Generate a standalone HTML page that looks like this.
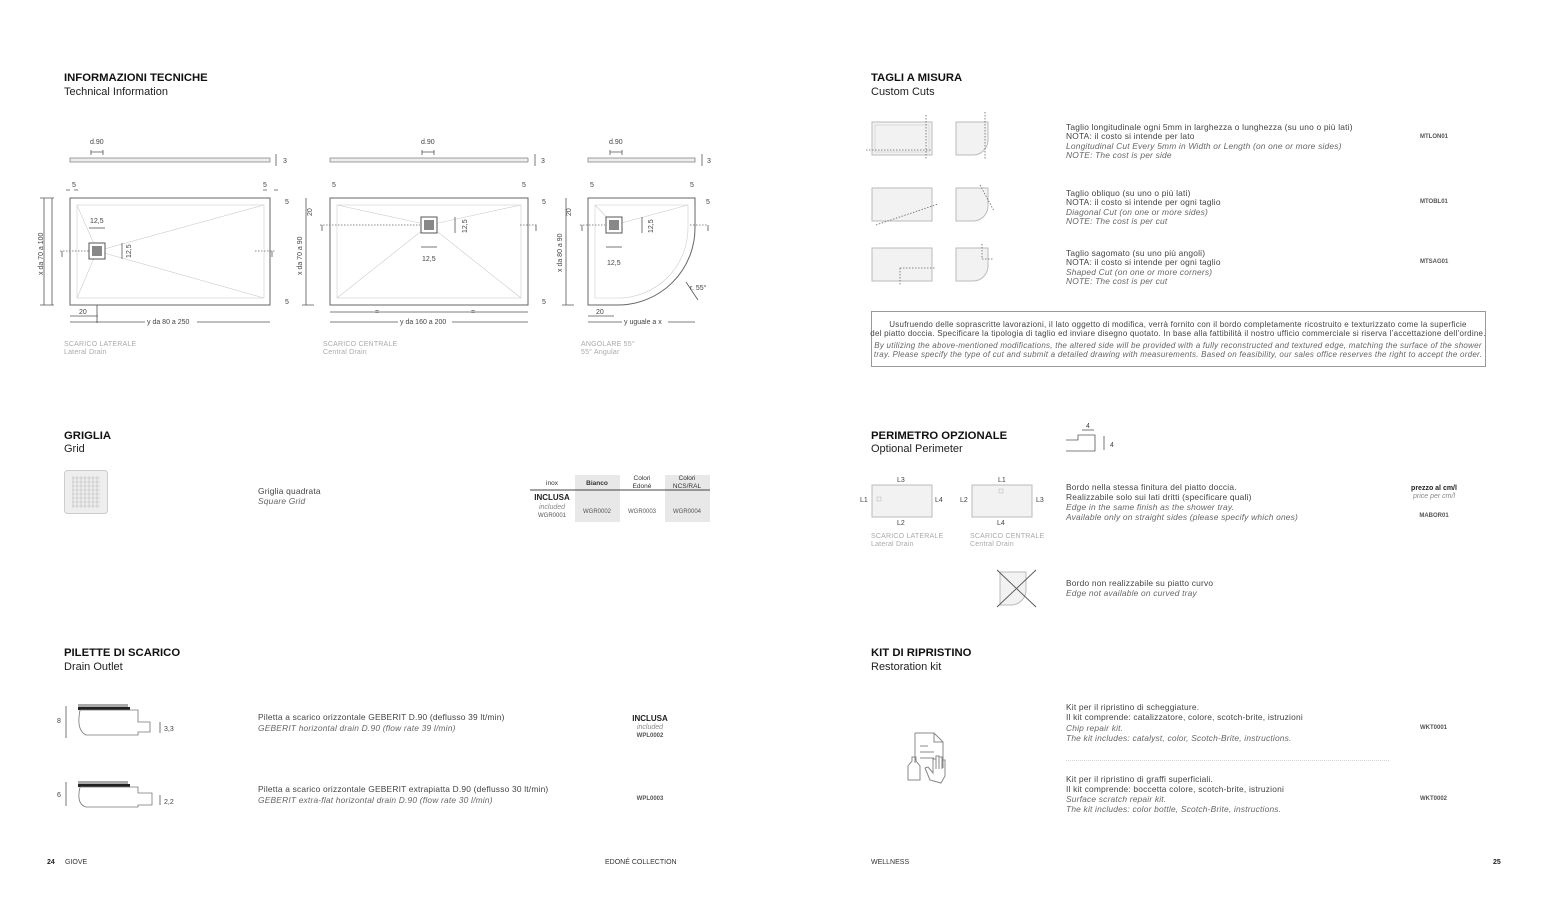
<!DOCTYPE html>
<html><head><meta charset="utf-8"><style>
html,body{margin:0;padding:0;background:#fff}
svg{display:block}
text{font-family:"Liberation Sans",sans-serif;fill:#333}
.h{font-size:11.3px;font-weight:bold;fill:#111}
.s{font-size:11px;fill:#222}
.t{font-size:8.4px;fill:#444;letter-spacing:0.2px}
.i{font-size:8.4px;font-style:italic;fill:#666;letter-spacing:0.2px}
.c{font-size:6px;font-weight:bold;fill:#555}
.cap{font-size:7px;fill:#aaa;letter-spacing:0.2px}
.d{font-size:7px;fill:#444}
.ln{stroke:#555;stroke-width:0.8;fill:none}
.lg{stroke:#ccc;stroke-width:0.6;fill:none}
.dash{stroke:#666;stroke-width:0.8;stroke-dasharray:1.5 1.5;fill:none}
.tray{fill:#f2f2f2;stroke:#bbb;stroke-width:1}
.n{font-size:8px;letter-spacing:0.25px}
</style></head><body>
<svg width="1550" height="904" viewBox="0 0 1550 904" xmlns="http://www.w3.org/2000/svg">
<text x="64" y="81" class="h">INFORMAZIONI TECNICHE</text><text x="64" y="95" class="s">Technical Information</text>
<text x="871" y="81" class="h">TAGLI A MISURA</text><text x="871" y="95" class="s">Custom Cuts</text>
<text x="64" y="439" class="h">GRIGLIA</text><text x="64" y="452" class="s">Grid</text>
<text x="871" y="439" class="h">PERIMETRO OPZIONALE</text><text x="871" y="452" class="s">Optional Perimeter</text>
<text x="64" y="656" class="h">PILETTE DI SCARICO</text><text x="64" y="670" class="s">Drain Outlet</text>
<text x="871" y="656" class="h">KIT DI RIPRISTINO</text><text x="871" y="670" class="s">Restoration kit</text>

<g>
<text x="90" y="144" class="d">d.90</text><path class="ln" d="M91 150v5M103 150v5M91 152h12"/>
<rect x="70" y="158" width="200" height="4" fill="#eee" stroke="#777" stroke-width="0.7"/>
<path class="ln" d="M276 154v12"/><text x="283" y="163" class="d">3</text>
<text x="72" y="187" class="d">5</text><text x="263" y="187" class="d">5</text>
<path class="ln" d="M66 190h4M74 190h4M263 190h4M274 190h4"/>
<rect x="70" y="198" width="200" height="107" fill="#fff" stroke="#666" stroke-width="1"/>
<rect x="77" y="205" width="187" height="93" class="lg"/>
<path class="lg" d="M77 205L97 251L264 205M77 298L97 251L264 298"/>
<rect x="89" y="243" width="16" height="16" fill="#fff" stroke="#555"/><rect x="92" y="246" width="10" height="10" fill="#888"/>
<text x="90" y="223" class="d">12,5</text><path class="ln" d="M89 228h16"/>
<text x="131" y="258" class="d" transform="rotate(-90 131 258)">12,5</text><path class="ln" d="M122 243v16"/>
<path class="dash" d="M60 251h30M255 251h20"/>
<path class="ln" d="M62 251v6M272 251v6"/>
<path class="ln" d="M44 198v107M52 198v107M40 198h14M40 305h14"/>
<text x="43" y="275" class="d" transform="rotate(-90 43 275)">x da 70 a 100</text>
<text x="285" y="204" class="d">5</text><text x="285" y="304" class="d">5</text>
<path class="ln" d="M97 305v18M70 316h28"/><text x="79" y="314" class="d">20</text>
<path class="ln" d="M70 322h200"/><rect x="145" y="318" width="52" height="8" fill="#fff"/><text x="147" y="324" class="d">y da 80 a 250</text>
<text x="64" y="346" class="cap">SCARICO LATERALE</text><text x="64" y="354" class="cap">Lateral Drain</text>
</g>
<g>
<text x="421" y="144" class="d">d.90</text><path class="ln" d="M422 150v5M434 150v5M422 152h12"/>
<rect x="330" y="158" width="198" height="4" fill="#eee" stroke="#777" stroke-width="0.7"/>
<path class="ln" d="M535 154v12"/><text x="541" y="163" class="d">3</text>
<text x="332" y="187" class="d">5</text><text x="522" y="187" class="d">5</text>
<rect x="330" y="198" width="198" height="107" fill="#fff" stroke="#666" stroke-width="1"/>
<rect x="337" y="205" width="184" height="93" class="lg"/>
<path class="lg" d="M337 205L429 225L521 205M337 298L429 225L521 298"/>
<rect x="421" y="217" width="16" height="16" fill="#fff" stroke="#555"/><rect x="424" y="220" width="10" height="10" fill="#888"/>
<text x="467" y="233" class="d" transform="rotate(-90 467 233)">12,5</text><path class="ln" d="M455 217v16"/>
<path class="ln" d="M421 247h16"/><text x="422" y="261" class="d">12,5</text>
<path class="dash" d="M320 225h100M520 225h18"/><path class="ln" d="M322 225v6M536 225v6"/>
<path class="ln" d="M306 198v107M302 305h12"/>
<text x="312" y="216" class="d" transform="rotate(-90 312 216)">20</text>
<text x="302" y="275" class="d" transform="rotate(-90 302 275)">x da 70 a 90</text>
<text x="542" y="204" class="d">5</text><text x="542" y="304" class="d">5</text>
<path class="ln" d="M330 312h198"/><text x="375" y="314" class="d">=</text><text x="471" y="314" class="d">=</text>
<path class="ln" d="M330 322h198"/><rect x="398" y="318" width="54" height="8" fill="#fff"/><text x="400" y="324" class="d">y da 160 a 200</text>
<text x="323" y="346" class="cap">SCARICO CENTRALE</text><text x="323" y="354" class="cap">Central Drain</text>
</g>
<g>
<text x="609" y="144" class="d">d.90</text><path class="ln" d="M610 150v5M622 150v5M610 152h12"/>
<rect x="588" y="158" width="107" height="4" fill="#eee" stroke="#777" stroke-width="0.7"/>
<path class="ln" d="M702 154v12"/><text x="707" y="163" class="d">3</text>
<text x="590" y="187" class="d">5</text><text x="690" y="187" class="d">5</text>
<path d="M588 198H695V228A77 77 0 0 1 618 305H588Z" fill="#fff" stroke="#666"/>
<path d="M595 205H688V228A70 70 0 0 1 618 298H595Z" class="lg"/>
<path class="lg" d="M595 205L614 225L688 205"/>
<rect x="606" y="217" width="16" height="16" fill="#fff" stroke="#555"/><rect x="609" y="220" width="10" height="10" fill="#888"/>
<text x="653" y="233" class="d" transform="rotate(-90 653 233)">12,5</text><path class="ln" d="M642 217v16"/>
<path class="ln" d="M606 247h16"/><text x="607" y="265" class="d">12,5</text>
<path class="dash" d="M580 225h25M690 225h18"/><path class="ln" d="M582 225v6M708 225v6"/>
<path class="ln" d="M566 198v107M562 305h12"/>
<text x="571" y="216" class="d" transform="rotate(-90 571 216)">20</text>
<text x="562" y="272" class="d" transform="rotate(-90 562 272)">x da 80 a 90</text>
<text x="706" y="204" class="d">5</text>
<path class="ln" d="M686 282L698 300"/><text x="690" y="290" class="d">r. 55°</text>
<path class="ln" d="M588 316h26"/><text x="596" y="314" class="d">20</text>
<path class="ln" d="M588 322h107"/><rect x="622" y="318" width="46" height="8" fill="#fff"/><text x="624" y="324" class="d">y uguale a x</text>
<text x="581" y="346" class="cap">ANGOLARE 55°</text><text x="581" y="354" class="cap">55° Angular</text>
</g>

<g>
<rect x="872" y="122" width="60" height="33" class="tray"/><rect x="875" y="125" width="54" height="27" fill="none" stroke="#ccc" stroke-width="0.6"/>
<path class="dash" d="M866 150h66M926 115v44"/>
<path d="M956 122H988V140A15 15 0 0 1 973 155H956Z" class="tray"/><path class="dash" d="M985 112v48"/>
<rect x="872" y="188" width="60" height="33" class="tray"/><path class="dash" d="M876 225L938 204"/>
<path d="M956 188H988V206A15 15 0 0 1 973 221H956Z" class="tray"/><path class="dash" d="M980 185L994 211"/>
<rect x="872" y="248" width="60" height="33" class="tray"/><path class="dash" d="M900 268h35M900 268v17"/>
<path d="M956 248H988V266A15 15 0 0 1 973 281H956Z" class="tray"/><path class="dash" d="M982 244v15h12"/>
</g>
<text x="1066" y="130" class="t">Taglio longitudinale ogni 5mm in larghezza o lunghezza (su uno o più lati)</text>
<text x="1066" y="139" class="t">NOTA: il costo si intende per lato</text>
<text x="1066" y="149" class="i">Longitudinal Cut Every 5mm in Width or Length (on one or more sides)</text>
<text x="1066" y="158" class="i">NOTE: The cost is per side</text>
<text x="1420" y="138" class="c">MTLON01</text>
<text x="1066" y="196" class="t">Taglio obliquo (su uno o più lati)</text>
<text x="1066" y="205" class="t">NOTA: il costo si intende per ogni taglio</text>
<text x="1066" y="215" class="i">Diagonal Cut (on one or more sides)</text>
<text x="1066" y="224" class="i">NOTE: The cost is per cut</text>
<text x="1420" y="203" class="c">MTOBL01</text>
<text x="1066" y="256" class="t">Taglio sagomato (su uno più angoli)</text>
<text x="1066" y="265" class="t">NOTA: il costo si intende per ogni taglio</text>
<text x="1066" y="275" class="i">Shaped Cut (on one or more corners)</text>
<text x="1066" y="284" class="i">NOTE: The cost is per cut</text>
<text x="1420" y="263" class="c">MTSAG01</text>
<rect x="871.5" y="311.5" width="614" height="55" fill="none" stroke="#999"/>
<g text-anchor="middle">
<text x="1178" y="327" class="t n">Usufruendo delle soprascritte lavorazioni, il lato oggetto di modifica, verrà fornito con il bordo completamente ricostruito e texturizzato come la superficie</text>
<text x="1178" y="336" class="t n">del piatto doccia. Specificare la tipologia di taglio ed inviare disegno quotato. In base alla fattibilità il nostro ufficio commerciale si riserva l’accettazione dell’ordine.</text>
<text x="1178" y="348" class="i n">By utilizing the above-mentioned modifications, the altered side will be provided with a fully reconstructed and textured edge, matching the surface of the shower</text>
<text x="1178" y="357" class="i n">tray. Please specify the type of cut and submit a detailed drawing with measurements. Based on feasibility, our sales office reserves the right to accept the order.</text>
</g>

<rect x="64.5" y="470.5" width="43" height="43" rx="3" fill="#eee" stroke="#ccc"/>
<g fill="none" stroke="#bbb" stroke-width="0.6">
<path d="M72 478h28M72 482h28M72 486h28M72 490h28M72 494h28M72 498h28M72 502h28M72 506h28"/>
<path d="M73 476v32M77 476v32M81 476v32M85 476v32M89 476v32M93 476v32M97 476v32"/>
</g>
<text x="258" y="494" class="t">Griglia quadrata</text><text x="258" y="504" class="i">Square Grid</text>
<rect x="575" y="475" width="45" height="47" fill="#e8e8e8"/><rect x="665" y="475" width="45" height="47" fill="#e8e8e8"/>
<path d="M530 490h180" stroke="#444" stroke-width="1"/>
<g text-anchor="middle" style="font-size:6px">
<text x="552" y="485" style="font-size:6.5px">inox</text>
<text x="597" y="485" style="font-size:6.5px;font-weight:bold">Bianco</text>
<text x="642" y="480" style="font-size:6.5px">Colori</text><text x="642" y="488" style="font-size:6.5px">Edoné</text>
<text x="687" y="480" style="font-size:6.5px">Colori</text><text x="687" y="488" style="font-size:6.5px">NCS/RAL</text>
<text x="552" y="500" style="font-size:8px;font-weight:bold;fill:#222">INCLUSA</text>
<text x="552" y="509" style="font-size:7px;font-style:italic;fill:#888">included</text>
<text x="552" y="517" style="font-size:6px;fill:#555">WGR0001</text>
<text x="597" y="513" style="font-size:6px;fill:#555">WGR0002</text>
<text x="642" y="513" style="font-size:6px;fill:#555">WGR0003</text>
<text x="687" y="513" style="font-size:6px;fill:#555">WGR0004</text>
</g>

<path class="ln" d="M1066 440h12v-5h17v16h-29" stroke="#888"/><path class="ln" d="M1104 436v14"/>
<path class="ln" d="M1082 430h12"/><text x="1086" y="428" class="d">4</text><text x="1110" y="447" class="d">4</text>
<rect x="872" y="485" width="60" height="32" class="tray"/><rect x="877" y="497" width="4" height="4" fill="none" stroke="#bbb" stroke-width="0.6"/>
<text x="897" y="482" class="d">L3</text><text x="860" y="502" class="d">L1</text><text x="935" y="502" class="d">L4</text><text x="897" y="525" class="d">L2</text>
<rect x="972" y="485" width="60" height="32" class="tray"/><rect x="999" y="489" width="4" height="4" fill="none" stroke="#bbb" stroke-width="0.6"/>
<text x="998" y="482" class="d">L1</text><text x="960" y="502" class="d">L2</text><text x="1036" y="502" class="d">L3</text><text x="997" y="525" class="d">L4</text>
<text x="871" y="538" class="cap">SCARICO LATERALE</text><text x="871" y="546" class="cap">Lateral Drain</text>
<text x="970" y="538" class="cap">SCARICO CENTRALE</text><text x="970" y="546" class="cap">Central Drain</text>
<text x="1066" y="490" class="t">Bordo nella stessa finitura del piatto doccia.</text>
<text x="1066" y="500" class="t">Realizzabile solo sui lati dritti (specificare quali)</text>
<text x="1066" y="510" class="i">Edge in the same finish as the shower tray.</text>
<text x="1066" y="520" class="i">Available only on straight sides (please specify which ones)</text>
<g text-anchor="middle"><text x="1434" y="490" style="font-size:7px;font-weight:bold;fill:#222">prezzo al cm/l</text>
<text x="1434" y="498" style="font-size:7px;font-style:italic;fill:#888">price per cm/l</text>
<text x="1434" y="517" class="c">MABOR01</text></g>
<path d="M1000 572H1026V590A15 15 0 0 1 1011 605H1000Z" class="tray"/>
<path d="M997 570L1036 607M1036 570L997 607" stroke="#555" stroke-width="0.9"/>
<text x="1066" y="586" class="t">Bordo non realizzabile su piatto curvo</text>
<text x="1066" y="596" class="i">Edge not available on curved tray</text>

<g>
<text x="57" y="723" class="d">8</text><path class="ln" d="M66 706v32"/>
<rect x="78" y="704" width="50" height="3" fill="#aaa"/><rect x="78" y="707" width="52" height="3" fill="#222"/>
<path d="M80 710H138V722H150V732H138V735H86Q76 730 80 710Z" fill="#fff" stroke="#777" stroke-width="0.8"/>
<path class="ln" d="M160 722v11"/><text x="164" y="731" class="d">3,3</text>
<text x="57" y="797" class="d">6</text><path class="ln" d="M66 782v24"/>
<rect x="78" y="781" width="50" height="3" fill="#aaa"/><rect x="78" y="784" width="52" height="3" fill="#222"/>
<path d="M80 787H138V793H152V805H138V807H86Q76 804 80 787Z" fill="#fff" stroke="#777" stroke-width="0.8"/>
<path class="ln" d="M160 795v10"/><text x="164" y="804" class="d">2,2</text>
</g>
<text x="258" y="720" class="t">Piletta a scarico orizzontale GEBERIT D.90 (deflusso 39 lt/min)</text>
<text x="258" y="731" class="i">GEBERIT horizontal drain D.90 (flow rate 39 l/min)</text>
<text x="258" y="792" class="t">Piletta a scarico orizzontale GEBERIT extrapiatta D.90 (deflusso 30 lt/min)</text>
<text x="258" y="803" class="i">GEBERIT extra-flat horizontal drain D.90 (flow rate 30 l/min)</text>
<g text-anchor="middle"><text x="650" y="721" style="font-size:8px;font-weight:bold;fill:#222">INCLUSA</text>
<text x="650" y="729" style="font-size:7px;font-style:italic;fill:#888">included</text>
<text x="650" y="737" class="c">WPL0002</text><text x="650" y="800" class="c">WPL0003</text></g>

<g fill="none" stroke="#888" stroke-width="1">
<path d="M915 733h19l9 9v26M915 733v30"/><path d="M934 733v9h9"/>
<path d="M920 746h8M920 752h14M920 758h14"/>
<path d="M908 780v-14l4-5v-4h4v4l4 5v14z"/>
<path d="M930 780l-5-12 3-1 5 6v-14h3v10-13h3v13-12h3v12-9h3v16l-4 7z"/>
</g>
<text x="1066" y="710" class="t">Kit per il ripristino di scheggiature.</text>
<text x="1066" y="720" class="t">Il kit comprende: catalizzatore, colore, scotch-brite, istruzioni</text>
<text x="1066" y="731" class="i">Chip repair kit.</text>
<text x="1066" y="741" class="i">The kit includes: catalyst, color, Scotch-Brite, instructions.</text>
<path d="M1066 760.5H1390" stroke="#aaa" stroke-width="0.6" stroke-dasharray="1 1"/>
<text x="1066" y="782" class="t">Kit per il ripristino di graffi superficiali.</text>
<text x="1066" y="792" class="t">Il kit comprende: boccetta colore, scotch-brite, istruzioni</text>
<text x="1066" y="802" class="i">Surface scratch repair kit.</text>
<text x="1066" y="812" class="i">The kit includes: color bottle, Scotch-Brite, instructions.</text>
<text x="1420" y="729" class="c">WKT0001</text><text x="1420" y="800" class="c">WKT0002</text>

<text x="47" y="864" style="font-size:7px;font-weight:bold;fill:#222">24</text>
<text x="65" y="864" style="font-size:7px;fill:#333">GIOVE</text>
<text x="605" y="864" style="font-size:7px;fill:#333">EDONÉ COLLECTION</text>
<text x="871" y="864" style="font-size:7px;fill:#333">WELLNESS</text>
<text x="1493" y="864" style="font-size:7px;font-weight:bold;fill:#222">25</text>
</svg>
</body></html>
